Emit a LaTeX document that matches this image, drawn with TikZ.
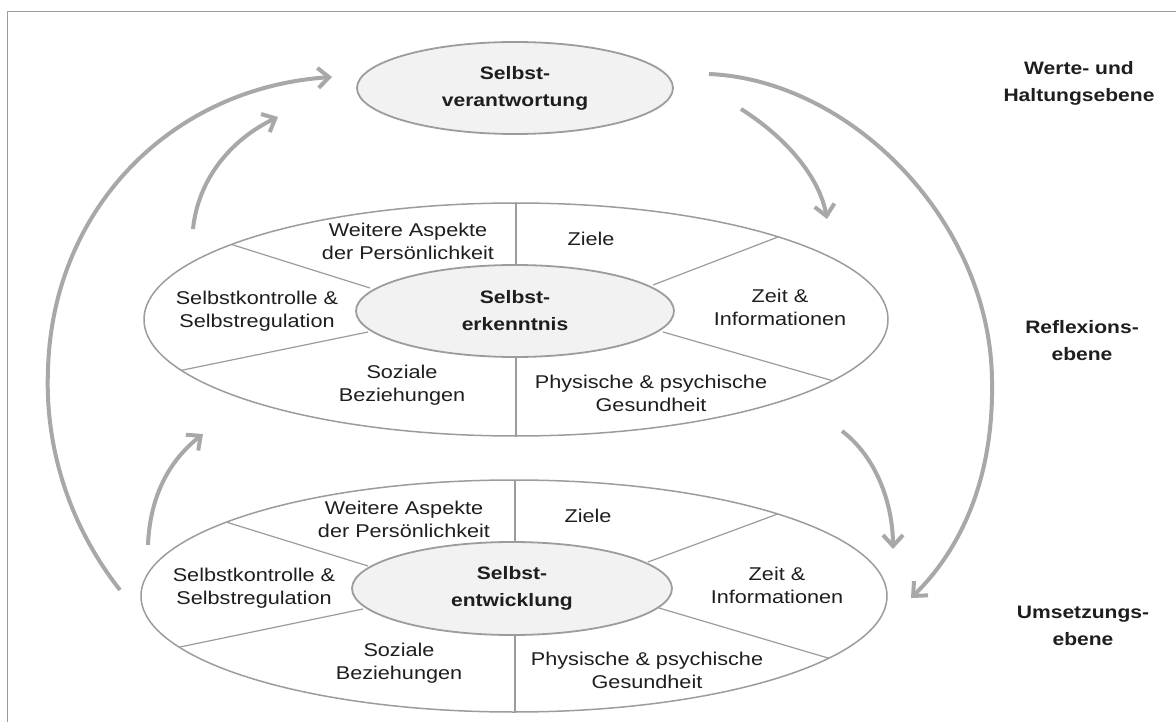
\documentclass[tikz,border=0pt]{standalone}
\usepackage{fontspec}
\setmainfont{Liberation Sans}[FakeStretch=1.17]
\usetikzlibrary{shapes.geometric,arrows.meta}
\definecolor{arrowgray}{HTML}{A8A8A8}
\definecolor{linegray}{HTML}{9C9C9C}
\definecolor{fillgray}{HTML}{F2F2F2}
\definecolor{txt}{HTML}{1E1E1E}
\begin{document}
\begin{tikzpicture}[x=1pt,y=-1pt,
  lab/.style={align=center, text=txt, font=\fontsize{18.5}{23}\selectfont, inner sep=0pt},
  blab/.style={align=center, text=txt, font=\bfseries\fontsize{18}{27}\selectfont, inner sep=0pt},
  bigell/.style={ellipse, draw=linegray, line width=1.5pt, inner sep=0pt},
  coreell/.style={ellipse, draw=linegray, fill=fillgray, line width=1.8pt, inner sep=0pt, align=center, text=txt, font=\bfseries\fontsize{18}{27}\selectfont},
  divider/.style={draw=linegray, line width=1.2pt, shorten >=-10pt},
  flow/.style={draw=arrowgray, line width=4pt, -{Straight Barb[length=11pt,width=20pt]}},
]
\useasboundingbox (0,0) rectangle (1176,722);
\fill[white] (0,0) rectangle (1176,722);
\draw[linegray, line width=1pt] (7,722) -- (7,11.5) -- (1176,11.5);

% ---- top level
\node[coreell, minimum width=316pt, minimum height=92pt] (verant) at (515,88) {Selbst-\\verantwortung};

% ---- middle level
\begin{scope}
  \clip (516,319.5) ellipse [x radius=372, y radius=116.5];
  \draw[divider] (516,300) -- (516,190);
  \draw[divider] (516,320) -- (516,450);
  \draw[divider] (370,288) -- (230,244);
  \draw[divider] (368,332) -- (183,370);
  \draw[divider] (653,285) -- (778,237);
  \draw[divider] (663,332) -- (830,380);
\end{scope}
\node[bigell, minimum width=744pt, minimum height=233pt] (reflring) at (516,319.5) {};
\node[coreell, minimum width=318pt, minimum height=92pt] (erkenntnis) at (515,311) {Selbst-\\erkenntnis};
\node[lab] (m1) at (408,241.5) {Weitere Aspekte\\der Persönlichkeit};
\node[lab] (m2) at (257,311.5) {Selbstkontrolle \&\\Selbstregulation};
\node[lab] (m3) at (402,385.5) {Soziale\\Beziehungen};
\node[lab] (m4) at (591,239) {Ziele};
\node[lab] (m5) at (780,307) {Zeit \&\\Informationen};
\node[lab] (m6) at (651,393.5) {Physische \& psychische\\Gesundheit};

% ---- bottom level
\begin{scope}
  \clip (514,596) ellipse [x radius=373, y radius=116];
  \draw[divider] (515,580) -- (515,470);
  \draw[divider] (515,600) -- (515,725);
  \draw[divider] (368,566) -- (226,522);
  \draw[divider] (363,609) -- (180,647);
  \draw[divider] (648,562) -- (775,515);
  \draw[divider] (659,608) -- (828,658);
\end{scope}
\node[bigell, minimum width=746pt, minimum height=232pt] (umsring) at (514,596) {};
\node[coreell, minimum width=320pt, minimum height=93pt] (entwicklung) at (512,588.5) {Selbst-\\entwicklung};
\node[lab] (b1) at (404,519.5) {Weitere Aspekte\\der Persönlichkeit};
\node[lab] (b2) at (254,588.5) {Selbstkontrolle \&\\Selbstregulation};
\node[lab] (b3) at (399,663.5) {Soziale\\Beziehungen};
\node[lab] (b4) at (588,516) {Ziele};
\node[lab] (b5) at (777,585) {Zeit \&\\Informationen};
\node[lab] (b6) at (647,670) {Physische \& psychische\\Gesundheit};

% ---- level labels
\node[blab] (werte) at (1079,83) {Werte- und\\Haltungsebene};
\node[blab] (reflex) at (1082,341) {Reflexions-\\ebene};
\node[blab] (umsetz) at (1083,626) {Umsetzungs-\\ebene};

% ---- arrows
\coordinate (a1s) at (120,590);
\coordinate (a1e) at (332,77);
\draw[flow] (a1s) .. controls (65,520) and (45,440) .. (48,370) .. controls (52,210) and (170,88) .. (a1e);

\coordinate (a2s) at (193,229);
\coordinate (a2e) at (278,117);
\draw[flow] (a2s) .. controls (198,180) and (230,140) .. (a2e);

\coordinate (a3s) at (148,545);
\coordinate (a3e) at (203,434);
\draw[flow] (a3s) .. controls (150,495) and (170,460) .. (a3e);

\coordinate (a4s) at (741,109);
\coordinate (a4e) at (827,219);
\draw[flow] (a4s) .. controls (790,140) and (820,180) .. (a4e);

\coordinate (a5s) at (842,431);
\coordinate (a5e) at (893,549);
\draw[flow] (a5s) .. controls (880,460) and (893,510) .. (a5e);

\coordinate (a6s) at (709,74);
\coordinate (a6e) at (911,598);
\draw[flow] (a6s) .. controls (850,80) and (990,220) .. (992,380) .. controls (994,480) and (960,550) .. (a6e);
\end{tikzpicture}
\end{document}
